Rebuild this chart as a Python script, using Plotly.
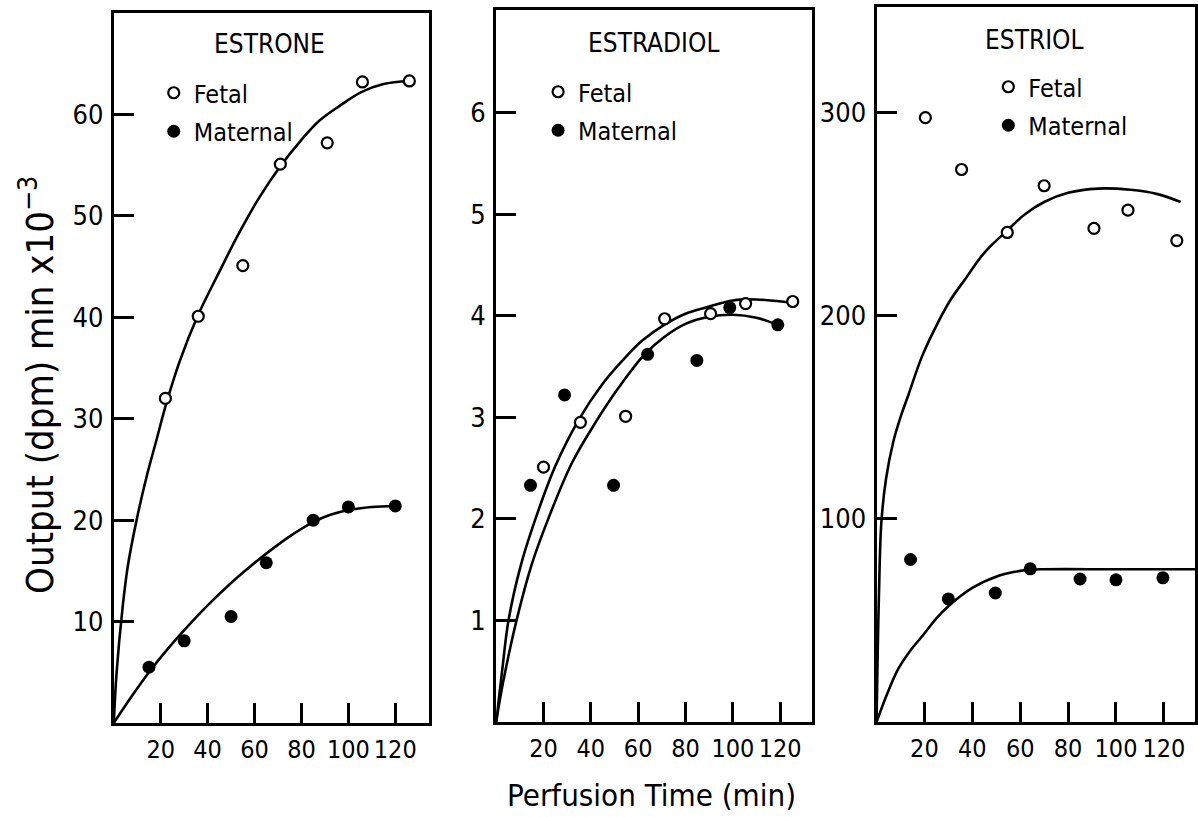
import plotly.graph_objects as go

W, H = 1198, 817
FONT = "DejaVu Sans Condensed, DejaVu Sans, sans-serif"

# ---------------- data ----------------
# Estrone
estrone_fetal_t = [22, 36, 55, 71, 91, 106, 126]
estrone_fetal_v = [32.0, 40.1, 45.1, 55.1, 57.2, 63.2, 63.3]
estrone_mat_t = [15, 30, 50, 65, 85, 100, 120]
estrone_mat_v = [5.5, 8.1, 10.5, 15.8, 20.0, 21.3, 21.4]
estrone_fetal_fit_t = [0, 1.2, 3.8, 6, 9.8, 14, 18.3, 22, 28, 35.7, 45, 53.6, 62, 71, 80, 87.7, 96, 105.5, 115, 126]
estrone_fetal_fit_v = [0, 5, 11.5, 15.5, 20.1, 24.3, 28, 31.2, 35.6, 40.1, 44.5, 48.4, 51.8, 54.9, 57.5, 59.4, 60.8, 62.2, 63.0, 63.3]
estrone_mat_fit_t = [0, 8, 15, 23, 31, 40, 50, 57, 65, 75, 85, 92, 100, 110, 120]
estrone_mat_fit_v = [0, 2.75, 5.0, 7.3, 9.4, 11.6, 13.8, 15.2, 16.7, 18.4, 19.8, 20.5, 21.0, 21.3, 21.4]

# Estradiol
estradiol_fetal_t = [20, 35.6, 54.7, 71.2, 90.6, 105.4, 125.3]
estradiol_fetal_v = [2.51, 2.95, 3.01, 3.97, 4.02, 4.12, 4.14]
estradiol_mat_t = [14.5, 28.9, 49.6, 64, 84.8, 98.7, 119]
estradiol_mat_v = [2.33, 3.22, 2.33, 3.62, 3.56, 4.08, 3.91]
estradiol_fetal_fit_t = [0, 2.5, 5.2, 10.5, 16.6, 25, 35, 45, 55, 62, 71, 80, 90, 100, 110, 124]
estradiol_fetal_fit_v = [0, 0.5, 1.0, 1.55, 2.0, 2.52, 2.98, 3.33, 3.6, 3.76, 3.91, 4.02, 4.09, 4.15, 4.16, 4.13]
estradiol_mat_fit_t = [0, 3, 8.6, 15, 22, 32, 42, 52, 62, 71, 80, 90, 100, 110, 119]
estradiol_mat_fit_v = [0, 0.4, 1.0, 1.55, 2.0, 2.55, 2.95, 3.3, 3.6, 3.79, 3.92, 3.99, 4.01, 3.98, 3.91]

# Estriol
estriol_fetal_t = [20.4, 35.5, 54.6, 70, 90.8, 105, 125.4]
estriol_fetal_v = [297.5, 272, 241, 264, 243, 252, 237]
estriol_mat_t = [14.2, 30, 49.6, 64.2, 85, 100, 119.6]
estriol_mat_v = [80, 60.6, 63.5, 75.4, 70.4, 70, 71]
estriol_fetal_fit_t = [0, 0.5, 1, 2, 4, 7, 10, 13.3, 19, 25.8, 31, 37, 45, 54.6, 62, 70, 80, 92.5, 106, 117, 127]
estriol_fetal_fit_v = [0, 35, 62, 98, 120, 138, 150, 161, 180, 197, 208, 218, 231, 242, 250, 256, 260.5, 262.6, 262, 260, 256]
estriol_mat_fit_t = [0, 4.5, 9, 14, 19.6, 25, 30, 40, 51, 58, 64.6, 70, 100, 133]
estriol_mat_fit_v = [0, 14, 26, 35, 43, 51, 57, 66, 72, 74, 75, 75.2, 75.2, 75.2]

x_ticks = [20, 40, 60, 80, 100, 120]

panels = [
    dict(name="ESTRONE", px=(114, 430), py=(13, 723), xr=[0, 134.5], yr=[0, 70],
         yt=[10, 20, 30, 40, 50, 60],
         ft=estrone_fetal_t, fv=estrone_fetal_v, mt=estrone_mat_t, mv=estrone_mat_v,
         fft=estrone_fetal_fit_t, ffv=estrone_fetal_fit_v,
         mft=estrone_mat_fit_t, mfv=estrone_mat_fit_v,
         title_xy=(270, 44), leg_xy=(174, 94)),
    dict(name="ESTRADIOL", px=(497, 813), py=(10, 722), xr=[0, 133.3], yr=[0, 7.01],
         yt=[1, 2, 3, 4, 5, 6],
         ft=estradiol_fetal_t, fv=estradiol_fetal_v, mt=estradiol_mat_t, mv=estradiol_mat_v,
         fft=estradiol_fetal_fit_t, ffv=estradiol_fetal_fit_v,
         mft=estradiol_mat_fit_t, mfv=estradiol_mat_fit_v,
         title_xy=(655, 43), leg_xy=(559, 93)),
    dict(name="ESTRIOL", px=(878, 1197), py=(7, 722), xr=[0, 133], yr=[0, 352],
         yt=[100, 200, 300],
         ft=estriol_fetal_t, fv=estriol_fetal_v, mt=estriol_mat_t, mv=estriol_mat_v,
         fft=estriol_fetal_fit_t, ffv=estriol_fetal_fit_v,
         mft=estriol_mat_fit_t, mfv=estriol_mat_fit_v,
         title_xy=(1036, 40), leg_xy=(1010, 88)),
]

fig = go.Figure()
annotations = []
layout = {}

for i, p in enumerate(panels, start=1):
    xa = "x" if i == 1 else f"x{i}"
    ya = "y" if i == 1 else f"y{i}"
    lg = "legend" if i == 1 else f"legend{i}"
    line_style = dict(color="black", width=2.6, shape="spline", smoothing=1.0)
    fig.add_trace(go.Scatter(x=p["fft"], y=p["ffv"], mode="lines", line=line_style,
                             xaxis=xa, yaxis=ya, showlegend=False, hoverinfo="skip"))
    fig.add_trace(go.Scatter(x=p["mft"], y=p["mfv"], mode="lines", line=line_style,
                             xaxis=xa, yaxis=ya, showlegend=False, hoverinfo="skip"))
    fig.add_trace(go.Scatter(x=p["ft"], y=p["fv"], mode="markers", name="Fetal",
                             legendgroup=f"f{i}",
                             marker=dict(symbol="circle", size=11, color="white", line=dict(color="black", width=2.2)),
                             xaxis=xa, yaxis=ya, legend=lg, cliponaxis=False))
    fig.add_trace(go.Scatter(x=p["mt"], y=p["mv"], mode="markers", name="Maternal",
                             legendgroup=f"m{i}",
                             marker=dict(symbol="circle", size=13, color="black"),
                             xaxis=xa, yaxis=ya, legend=lg, cliponaxis=False))

    x0, x1 = p["px"]
    y0, y1 = p["py"]
    axis_common = dict(showline=True, mirror=True, linecolor="black", linewidth=3,
                       ticks="inside", ticklen=20, tickwidth=2.5, tickcolor="black",
                       showgrid=False, zeroline=False, tickangle=0)
    layout["xaxis" if i == 1 else f"xaxis{i}"] = dict(
        domain=[x0 / W, x1 / W], range=p["xr"], anchor=ya,
        tickvals=x_ticks, ticktext=[str(v) for v in x_ticks], ticklabelstandoff=2,
        tickfont=dict(family=FONT, size=25, color="black"), **axis_common)
    layout["yaxis" if i == 1 else f"yaxis{i}"] = dict(
        domain=[1 - y1 / H, 1 - y0 / H], range=p["yr"], anchor=xa,
        tickvals=p["yt"], ticktext=[str(v) for v in p["yt"]], ticklabelstandoff=2,
        tickfont=dict(family=FONT, size=27, color="black"), **axis_common)

    tx, ty = p["title_xy"]
    annotations.append(dict(text=p["name"], x=tx / W, y=1 - ty / H, xref="paper", yref="paper",
                            xanchor="center", yanchor="middle", showarrow=False,
                            font=dict(family=FONT, size=26, color="black")))
    lx, ly = p["leg_xy"]
    layout[lg] = dict(x=(lx - 20) / W, y=1 - (ly - 24) / H, xanchor="left", yanchor="top",
                      bgcolor="rgba(0,0,0,0)", borderwidth=0,
                      font=dict(family=FONT, size=25, color="black"),
                      itemwidth=30, tracegroupgap=3)

annotations.append(dict(text="Output (dpm) min x10<sup>\u22123</sup>", x=37 / W, y=1 - 385 / H,
                        xref="paper", yref="paper", textangle=-90, showarrow=False,
                        xanchor="center", yanchor="middle",
                        font=dict(family=FONT, size=38, color="black")))
annotations.append(dict(text="Perfusion Time (min)", x=653 / W, y=1 - 795 / H,
                        xref="paper", yref="paper", showarrow=False,
                        xanchor="center", yanchor="middle",
                        font=dict(family=FONT, size=31, color="black")))

fig.update_layout(width=W, height=H, margin=dict(l=0, r=0, t=0, b=0),
                  paper_bgcolor="white", plot_bgcolor="white",
                  annotations=annotations, **layout)

fig.write_html("out.html")
